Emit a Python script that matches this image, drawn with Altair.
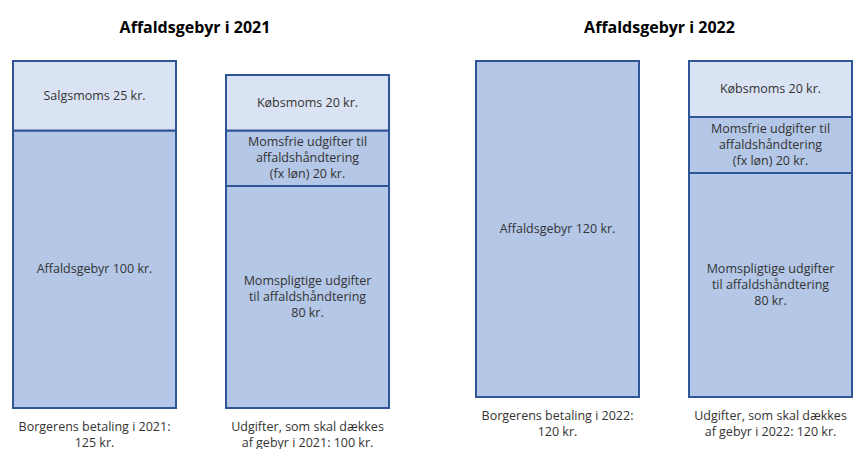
import altair as alt
import pandas as pd

FONT = "Open Sans"

# data
years = [2021, 2021, 2021, 2021, 2021, 2022, 2022, 2022, 2022]
bars = [
    "Borgerens betaling i 2021:\n125 kr.",
    "Borgerens betaling i 2021:\n125 kr.",
    "Udgifter, som skal dækkes\naf gebyr i 2021: 100 kr.",
    "Udgifter, som skal dækkes\naf gebyr i 2021: 100 kr.",
    "Udgifter, som skal dækkes\naf gebyr i 2021: 100 kr.",
    "Borgerens betaling i 2022:\n120 kr.",
    "Udgifter, som skal dækkes\naf gebyr i 2022: 120 kr.",
    "Udgifter, som skal dækkes\naf gebyr i 2022: 120 kr.",
    "Udgifter, som skal dækkes\naf gebyr i 2022: 120 kr.",
]
order = [1, 2, 1, 2, 3, 1, 1, 2, 3]
values = [100, 25, 80, 20, 20, 120, 80, 20, 20]
kinds = ["base", "moms", "base", "base", "moms", "base", "base", "base", "moms"]
labels = [
    "Affaldsgebyr 100 kr.",
    "Salgsmoms 25 kr.",
    "Momspligtige udgifter\ntil affaldshåndtering\n80 kr.",
    "Momsfrie udgifter til\naffaldshåndtering\n(fx løn) 20 kr.",
    "Købsmoms 20 kr.",
    "Affaldsgebyr 120 kr.",
    "Momspligtige udgifter\ntil affaldshåndtering\n80 kr.",
    "Momsfrie udgifter til\naffaldshåndtering\n(fx løn) 20 kr.",
    "Købsmoms 20 kr.",
]

df = pd.DataFrame(dict(year=years, bar=bars, order=order, value=values,
                       kind=kinds, label=labels))

STROKE = "#2F5597"
LH = 16
FS = 12.5


def panel(year, width, height, ymax, pad_outer, align, title_dx):
    sub = df[df.year == year]
    bar_order = list(dict.fromkeys(sub.bar))
    base = alt.Chart(sub).transform_stack(
        stack="value", groupby=["bar"], sort=[alt.SortField("order")], as_=["y0", "y1"]
    ).transform_calculate(
        mid="(datum.y0 + datum.y1) / 2",
        nlines="length(split(datum.label, '\\n'))",
    )

    xenc = alt.X(
        "bar:N", sort=bar_order, title=None,
        scale=alt.Scale(paddingInner=50 / 213, paddingOuter=pad_outer, align=align),
        axis=alt.Axis(labelAngle=0, ticks=False, domain=False, labelPadding=12,
                      labelExpr="split(datum.label, '\\n')", labelFont=FONT,
                      labelFontSize=FS, labelColor="#333333", labelLineHeight=LH,
                      labelLimit=300),
    )
    yscale = alt.Scale(domain=[0, ymax], nice=False, zero=True)

    rects = base.mark_bar(stroke=STROKE, strokeWidth=2).encode(
        x=xenc,
        y=alt.Y("y0:Q", scale=yscale, axis=None),
        y2="y1:Q",
        color=alt.Color("kind:N", scale=alt.Scale(domain=["moms", "base"],
                                                  range=["#DAE3F3", "#B4C7E7"]),
                        legend=None),
    )
    layers = [rects]
    for n in (1, 3):
        layers.append(
            base.transform_filter(f"datum.nlines == {n}").mark_text(
                lineBreak="\n", font=FONT, fontSize=FS, color="#333333",
                lineHeight=LH, dy=-(n - 1) * LH / 2,
            ).encode(
                x=alt.X("bar:N", sort=bar_order),
                y=alt.Y("mid:Q", scale=yscale),
                text="label:N",
            )
        )
    return alt.layer(*layers).properties(
        width=width, height=height,
        title=alt.TitleParams(f"Affaldsgebyr i {year}", fontSize=16, fontWeight="bold",
                              font=FONT, color="#000000", anchor="middle", offset=24,
                              dx=title_dx),
    )


left = panel(2021, 402, 347, 125, 13 / 213, 0.5, -6)
right = panel(2022, 393, 336, 120, 8.5 / 213, 13 / 17, 0)

chart = alt.hconcat(left, right, spacing=61).resolve_scale(
    x="independent", y="independent"
).properties(
    padding={"left": 0, "right": 0, "top": 20, "bottom": 0},
    background="white",
).configure_view(stroke=None)

chart.save("out.html", embed_options={"renderer": "svg", "actions": False})
